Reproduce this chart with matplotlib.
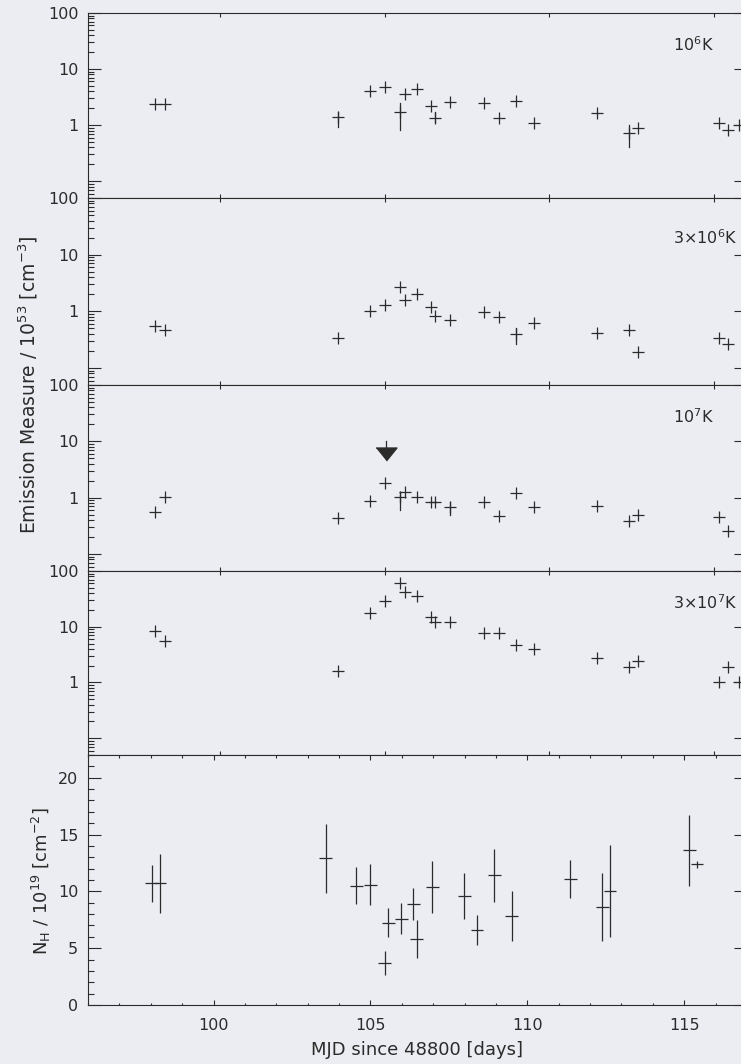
import numpy as np
import matplotlib
matplotlib.use('Agg')
import matplotlib.pyplot as plt
from matplotlib.ticker import LogLocator, MultipleLocator, NullFormatter

nan = np.nan
ink = '#2b2b2b'
bg = '#ecedf2'

# times of the fits, MJD - 48800 (emission measure panels)
t_em = [98.03, 98.33, 103.6, 104.55, 105.0, 105.48, 105.61, 106.0, 106.42, 106.52,
        107.0, 108.03, 108.47, 108.99, 109.53, 111.45, 112.42, 112.7, 115.15, 115.43, 115.76]

# emission measures / 1e53 cm^-3
em_1e6 = [2.37, 2.37, 1.39, 4.0, 4.8, 1.7, 3.6, 4.4, 2.2, 1.33,
          2.6, 2.5, 1.33, 2.7, 1.09, 1.64, 0.72, 0.88, 1.09, 0.81, 1.0]
em_3e6 = [0.56, 0.46, 0.34, 1.0, 1.27, 2.7, 1.6, 2.0, 1.18, 0.81,
          0.69, 0.96, 0.78, 0.39, 0.63, 0.41, 0.46, 0.19, 0.34, 0.26, nan]
em_1e7 = [0.56, 1.04, 0.44, 0.88, 1.85, 1.04, 1.28, 1.04, 0.85, 0.85,
          0.69, 0.85, 0.48, 1.23, 0.69, 0.72, 0.39, 0.5, 0.46, 0.26, nan]
em_3e7 = [8.5, 5.6, 1.6, 17.8, 29, 61, 42, 36, 15, 12.3,
          12.3, 7.8, 7.7, 4.8, 4.0, 2.7, 1.9, 2.4, 1.0, 1.9, 1.0]

# the few error bars longer than the symbol: index -> (low, high)
bars_1e6 = {2: (0.92, 1.7), 5: (0.81, 2.47), 9: (1.13, 1.7), 16: (0.40, 1.0)}
bars_3e6 = {13: (0.27, 0.50)}
bars_1e7 = {5: (0.61, 1.28), 10: (0.50, 0.85)}
bars_3e7 = {}

# upper limit in the 1e7 K panel
ul_t = 105.05
ul_top = 10.0
ul_base = 7.8
ul_head = 6.0

temps = ['10$^6$K', '3\u00d710$^6$K', '10$^7$K', '3\u00d710$^7$K']

# column density
t_nh = [98.03, 98.3, 103.57, 104.55, 105.0, 105.45, 105.57, 105.99, 106.37, 106.47,
        106.97, 107.99, 108.4, 108.95, 109.5, 111.37, 112.39, 112.64, 115.16, 115.4]
nh = [10.7, 10.7, 12.9, 10.5, 10.6, 3.7, 7.25, 7.6, 8.9, 5.8,
      10.4, 9.6, 6.6, 11.4, 7.8, 11.1, 8.6, 10.0, 13.6, 12.4]
nh_err = [1.6, 2.6, 3.05, 1.65, 1.8, 1.05, 1.25, 1.35, 1.4, 1.7,
          2.3, 2.0, 1.3, 2.3, 2.2, 1.7, 3.0, 4.05, 3.1, 0.3]

plt.rcParams['font.family'] = ['DejaVu Sans']
plt.rcParams['mathtext.fontset'] = 'dejavusans'
plt.rcParams['text.color'] = ink

W, H = 741.0, 1064.0
fig = plt.figure(figsize=(W/100, H/100), dpi=100, facecolor=bg)
edges = [13, 198, 385, 571, 755, 1005]
x0, x1 = 88, 747

ems = [em_1e6, em_3e6, em_1e7, em_3e7]
bars = [bars_1e6, bars_3e6, bars_1e7, bars_3e7]
text_y = [0.83, 0.79, 0.83, 0.83]

for i in range(5):
    ax = fig.add_axes([x0/W, 1 - edges[i+1]/H, (x1 - x0)/W, (edges[i+1] - edges[i])/H])
    ax.set_facecolor(bg)
    for s in ax.spines.values():
        s.set_color(ink)
        s.set_linewidth(0.8)
    ax.tick_params(which='both', direction='in', top=True, right=True,
                   colors=ink, labelsize=11.5, width=0.8)
    ax.tick_params(axis='y', which='major', length=9.4, pad=7)
    ax.tick_params(axis='y', which='minor', length=4.3)

    if i < 4:
        y = ems[i]
        ax.plot(t_em, y, ls='none', marker='+', ms=9, mew=0.9, color=ink)
        for k, (lo, hi) in bars[i].items():
            ax.plot([t_em[k], t_em[k]], [lo, hi], color=ink, lw=0.9)
        if i == 2:
            ax.plot([ul_t, ul_t], [ul_top, ul_base], color=ink, lw=0.9)
            ax.plot([ul_t], [ul_head], ls='none', color=ink, ms=15,
                    marker=[(-1, 0.62), (1, 0.62), (0, -0.62)])
        ax.set_yscale('log')
        ax.set_ylim(0.05, 100)
        ax.set_yticks([0.1, 1, 10, 100], ['', '1', '10', '100'])
        ax.yaxis.set_minor_locator(LogLocator(subs=np.arange(2, 10)))
        ax.yaxis.set_minor_formatter(NullFormatter())
        ax.set_xlim(96, 116)
        ax.set_xticks([100, 105, 110, 115])
        ax.tick_params(axis='x', which='major', length=2.9, labelbottom=False)
        ax.text(0.888, text_y[i], temps[i], transform=ax.transAxes,
                ha='left', va='center', fontsize=11.5)
    else:
        ax.errorbar(t_nh, nh, xerr=0.2, yerr=nh_err, fmt='none', ecolor=ink,
                    elinewidth=0.9, capsize=0)
        ax.set_ylim(0, 22)
        ax.set_yticks([0, 5, 10, 15, 20])
        ax.yaxis.set_minor_locator(MultipleLocator(1))
        ax.set_xlim(96, 117)
        ax.set_xticks([100, 105, 110, 115])
        ax.xaxis.set_minor_locator(MultipleLocator(1))
        ax.tick_params(axis='x', which='major', length=3.6, pad=9)
        ax.tick_params(axis='x', which='minor', length=1.8)

fig.text(28/W, 1 - 385/H, 'Emission Measure / 10$^{53}$ [cm$^{-3}$]',
         rotation=90, ha='center', va='center', fontsize=13.5)
fig.text(41/W, 1 - 881/H, 'N$_\\mathrm{H}$ / 10$^{19}$ [cm$^{-2}$]',
         rotation=90, ha='center', va='center', fontsize=13)
fig.text(417/W, 1 - 1050/H, 'MJD since 48800 [days]',
         ha='center', va='center', fontsize=13)

fig.savefig('out.png', dpi=100, facecolor=bg)
